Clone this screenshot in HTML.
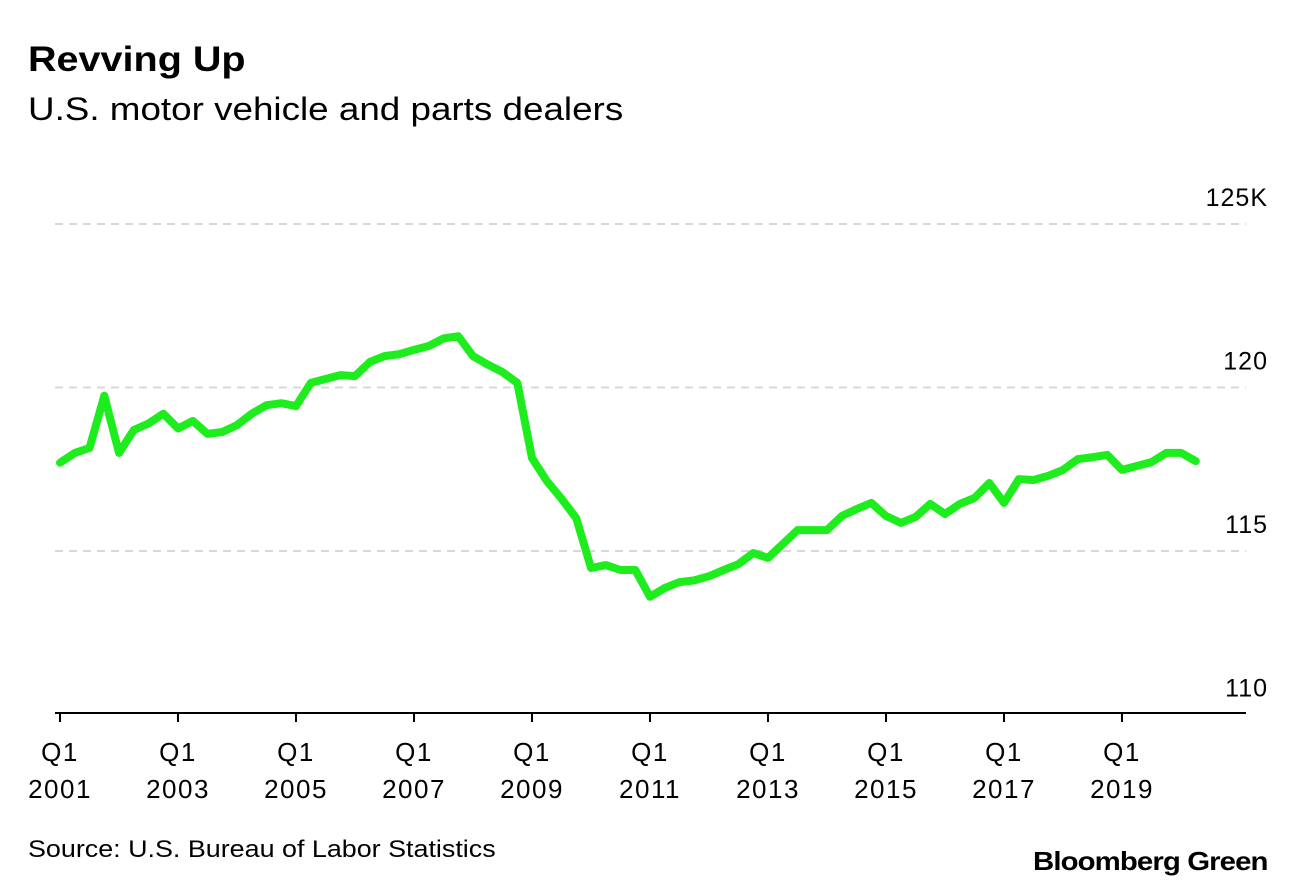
<!DOCTYPE html>
<html><head><meta charset="utf-8">
<style>
body{margin:0;background:#fff;font-family:"Liberation Sans",Arial,sans-serif;}
#wrap{position:relative;width:1296px;height:890px;overflow:hidden;}
.t{position:absolute;white-space:nowrap;color:#000;transform-origin:0 0;}
</style></head>
<body>
<div id="wrap">
<div class="t" style="left:28px;top:40px;font-size:35px;font-weight:bold;transform:scaleX(1.13);">Revving Up</div>
<div class="t" style="left:28px;top:91px;font-size:32px;transform:scaleX(1.15);">U.S. motor vehicle and parts dealers</div>
<svg id="chart" width="1296" height="890" style="position:absolute;left:0;top:0"></svg>
<div class="t" style="left:28px;top:836px;font-size:24px;transform:scaleX(1.12);">Source: U.S. Bureau of Labor Statistics</div>
<div class="t" style="right:28px;top:846px;font-size:26px;font-weight:bold;letter-spacing:-0.8px;transform-origin:100% 0;transform:scaleX(1.13);">Bloomberg Green</div>
</div>
<script>
const values=[117.7,118.0,118.15,119.75,118.0,118.7,118.9,119.2,118.75,118.98,118.58,118.64,118.85,119.2,119.46,119.52,119.43,120.14,120.26,120.38,120.35,120.78,120.96,121.02,121.15,121.27,121.5,121.57,120.96,120.7,120.47,120.14,117.84,117.14,116.6,116.0,114.48,114.57,114.42,114.42,113.6,113.87,114.05,114.1,114.23,114.42,114.6,114.94,114.79,115.21,115.64,115.64,115.64,116.07,116.28,116.47,116.07,115.86,116.04,116.44,116.13,116.44,116.62,117.08,116.47,117.2,117.17,117.3,117.48,117.81,117.87,117.94,117.48,117.6,117.72,118.0,118.0,117.75];
const yTicks=[110,115,120,125];
const yTickLabels=["110","115","120","125K"];
const xYears=[2001,2003,2005,2007,2009,2011,2013,2015,2017,2019];
const NS="http://www.w3.org/2000/svg";
const svg=document.getElementById('chart');
const x0=60,qw=14.75;
function xScale(i){return x0+i*qw;}
function yScale(v){return 224+(125-v)*32.7;}
function mk(tag,attrs){const e=document.createElementNS(NS,tag);for(const k in attrs)e.setAttribute(k,attrs[k]);svg.appendChild(e);return e;}
const tf='Liberation Sans, sans-serif';
yTicks.forEach((v,i)=>{
  if(v>110){
    const l=mk('line',{x1:55,x2:1246,y1:yScale(v),y2:yScale(v),stroke:'#d8d8d8','stroke-width':2,'stroke-dasharray':'8,6'});
    
    
  }
  const t=mk('text',{x:1268,y:yScale(v)-18,'text-anchor':'end','font-size':25,'font-family':tf,fill:'#000','letter-spacing':1});
  t.textContent=yTickLabels[i];
  
  
});
const ax=mk('line',{x1:55,x2:1246,y1:713,y2:713,stroke:'#000','stroke-width':2});


xYears.forEach(yr=>{
  const xi=xScale((yr-2001)*4);
  const tk=mk('line',{x1:xi,x2:xi,y1:713,y2:722,stroke:'#000','stroke-width':2});
  
  
  const t1=mk('text',{x:xi,y:761,'text-anchor':'middle','font-size':26,'font-family':tf,'letter-spacing':1.5});
  t1.textContent='Q1';
  
  
  const t2=mk('text',{x:xi,y:798,'text-anchor':'middle','font-size':26,'font-family':tf,'letter-spacing':1.5});
  t2.textContent=String(yr);
  
  
});
const pts=values.map((v,i)=>xScale(i).toFixed(1)+','+yScale(v).toFixed(1)).join(' ');
const line=mk('polyline',{points:pts,fill:'none',stroke:'#1ded1d','stroke-width':8,'stroke-linejoin':'round','stroke-linecap':'round'});


</script>
</body></html>
